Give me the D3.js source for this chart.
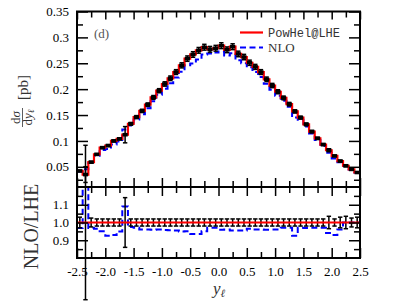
<!DOCTYPE html>
<html>
<head>
<meta charset="utf-8">
<script src="https://cdn.jsdelivr.net/npm/d3@7"></script>
<style>
  body { margin: 0; background: #fff; }
  svg { display: block; }
</style>
</head>
<body>
<svg id="chart"></svg>
<script>
// bin centres of the y_l histogram (bin width 0.1)
const binCenters = [-2.45, -2.35, -2.25, -2.15, -2.05, -1.95, -1.85, -1.75, -1.65, -1.55,
                    -1.45, -1.35, -1.25, -1.15, -1.05, -0.95, -0.85, -0.75, -0.65, -0.55,
                    -0.45, -0.35, -0.25, -0.15, -0.05, 0.05, 0.15, 0.25, 0.35, 0.45,
                    0.55, 0.65, 0.75, 0.85, 0.95, 1.05, 1.15, 1.25, 1.35, 1.45,
                    1.55, 1.65, 1.75, 1.85, 1.95, 2.05, 2.15, 2.25, 2.35, 2.45];

// PowHel@LHE  dsigma/dy [pb]
const lheValues = [0.042, 0.035, 0.059, 0.074, 0.087, 0.091, 0.100, 0.104, 0.112, 0.133,
                   0.146, 0.158, 0.170, 0.184, 0.197, 0.210, 0.221, 0.233, 0.246, 0.259,
                   0.267, 0.275, 0.281, 0.277, 0.279, 0.284, 0.276, 0.282, 0.268, 0.262,
                   0.251, 0.243, 0.233, 0.219, 0.207, 0.195, 0.183, 0.171, 0.157, 0.145,
                   0.132, 0.118, 0.105, 0.093, 0.082, 0.071, 0.061, 0.052, 0.045, 0.039];

// NLO  dsigma/dy [pb]
const nloValues = [0.0407, 0.0455, 0.0572, 0.0714, 0.0827, 0.0842, 0.0930, 0.0988, 0.1221, 0.1297,
                   0.1416, 0.1517, 0.1632, 0.1766, 0.1891, 0.2010, 0.2115, 0.2225, 0.2337, 0.2461,
                   0.2496, 0.2571, 0.2670, 0.2687, 0.2706, 0.2726, 0.2650, 0.2693, 0.2559, 0.2502,
                   0.2422, 0.2333, 0.2237, 0.2102, 0.1987, 0.1872, 0.1775, 0.1659, 0.1452, 0.1407,
                   0.1280, 0.1145, 0.1019, 0.0902, 0.0771, 0.0660, 0.0586, 0.0520, 0.0450, 0.0390];

// relative statistical error of the LHE prediction
const lheRelErr = [0.030, 0.435, 0.025, 0.020, 0.020, 0.020, 0.020, 0.020, 0.140, 0.020,
                   0.020, 0.020, 0.020, 0.020, 0.020, 0.020, 0.020, 0.020, 0.020, 0.020,
                   0.020, 0.020, 0.020, 0.020, 0.020, 0.020, 0.020, 0.020, 0.020, 0.020,
                   0.020, 0.020, 0.020, 0.020, 0.020, 0.020, 0.020, 0.020, 0.020, 0.020,
                   0.020, 0.020, 0.020, 0.020, 0.035, 0.020, 0.030, 0.035, 0.025, 0.030];

// ticks
const xMajor = [-2.5, -2, -1.5, -1, -0.5, 0, 0.5, 1, 1.5, 2, 2.5];
const xLabels = ["-2.5", "-2.0", "-1.5", "-1.0", "-0.5", "0.0", "0.5", "1.0", "1.5", "2.0", "2.5"];
const xMinor = [-2.25, -1.75, -1.25, -0.75, -0.25, 0.25, 0.75, 1.25, 1.75, 2.25];
const yUpMajor = [0.05, 0.1, 0.15, 0.2, 0.25, 0.3, 0.35];
const yUpLabels = ["0.05", "0.1", "0.15", "0.2", "0.25", "0.3", "0.35"];
const yUpMinor = [0.025, 0.075, 0.125, 0.175, 0.225, 0.275, 0.325];
const yLoMajor = [0.9, 1.0, 1.1];
const yLoLabels = ["0.9", "1.0", "1.1"];
const yLoMinor = [0.85, 0.95, 1.05, 1.15];

const width = 407, height = 308;
const pLeft = 77, pRight = 360, pTop = 11.5, pMid = 187, pBottom = 258;
const halfBin = 0.05;
const serif = "'Liberation Serif', 'Times New Roman', serif";

const svg = d3.select("#chart")
    .attr("width", width)
    .attr("height", height)
    .attr("viewBox", `0 0 ${width} ${height}`);

const x = d3.scaleLinear().domain([-2.5, 2.5]).range([pLeft, pRight]);
const yUp = d3.scaleLinear().domain([0.011, 0.35]).range([pMid, pTop]);
const yLo = d3.scaleLinear().domain([0.8, 1.2]).range([pBottom, pMid]);

const defs = svg.append("defs");
defs.append("clipPath").attr("id", "clipUp").append("rect")
    .attr("x", pLeft).attr("y", pTop).attr("width", pRight - pLeft).attr("height", pMid - pTop);
defs.append("clipPath").attr("id", "clipLo").append("rect")
    .attr("x", pLeft).attr("y", pMid).attr("width", pRight - pLeft).attr("height", pBottom - pMid);

// histogram as step line
function stepPoints(vals) {
  const pts = binCenters.map((c, i) => [c - halfBin, vals[i]]);
  pts.push([binCenters[binCenters.length - 1] + halfBin, vals[vals.length - 1]]);
  return pts;
}
const stepLine = ys => d3.line().x(d => x(d[0])).y(d => ys(d[1])).curve(d3.curveStepAfter);

const ratio = nloValues.map((v, i) => v / lheValues[i]);
const ones = lheValues.map(() => 1);

// ---- upper panel ----
const up = svg.append("g");
up.append("path")
    .attr("clip-path", "url(#clipUp)")
    .attr("d", stepLine(yUp)(stepPoints(nloValues)))
    .attr("fill", "none").attr("stroke", "#0000ff")
    .attr("stroke-width", 2).attr("stroke-dasharray", "6,3.5");
up.append("path")
    .attr("clip-path", "url(#clipUp)")
    .attr("d", stepLine(yUp)(stepPoints(lheValues)))
    .attr("fill", "none").attr("stroke", "#ff0000").attr("stroke-width", 2.2);

// black points with stat. errors
const pts = up.append("g").selectAll("g")
    .data(binCenters.map((c, i) => ({c, v: lheValues[i], e: lheValues[i] * lheRelErr[i]})))
    .join("g");
pts.append("line")
    .attr("x1", d => x(d.c)).attr("x2", d => x(d.c))
    .attr("y1", d => yUp(d.v - d.e)).attr("y2", d => yUp(d.v + d.e))
    .attr("stroke", "#000").attr("stroke-width", 1.5);
pts.selectAll(".cap")
    .data(d => [{c: d.c, v: d.v - d.e}, {c: d.c, v: d.v + d.e}])
    .join("line")
    .attr("x1", d => x(d.c) - 2.2).attr("x2", d => x(d.c) + 2.2)
    .attr("y1", d => yUp(d.v)).attr("y2", d => yUp(d.v))
    .attr("stroke", "#000").attr("stroke-width", 1.5);
pts.append("rect")
    .attr("x", d => x(d.c) - 2.6).attr("y", d => yUp(d.v) - 1.8)
    .attr("width", 5.2).attr("height", 3.6).attr("fill", "#000");

// ---- lower panel ----
const lo = svg.append("g");
lo.append("path")
    .attr("clip-path", "url(#clipLo)")
    .attr("d", stepLine(yLo)(stepPoints(ratio)))
    .attr("fill", "none").attr("stroke", "#0000ff")
    .attr("stroke-width", 2).attr("stroke-dasharray", "6,3.5");

const rb = lo.append("g").selectAll("g")
    .data(binCenters.map((c, i) => ({c, e: lheRelErr[i]})))
    .join("g");
rb.append("line")
    .attr("x1", d => x(d.c)).attr("x2", d => x(d.c))
    .attr("y1", d => yLo(1 - d.e)).attr("y2", d => yLo(1 + d.e))
    .attr("stroke", "#000").attr("stroke-width", 1.5);
rb.selectAll(".cap")
    .data(d => [{c: d.c, v: 1 - d.e}, {c: d.c, v: 1 + d.e}])
    .join("line")
    .attr("x1", d => x(d.c) - 2.2).attr("x2", d => x(d.c) + 2.2)
    .attr("y1", d => yLo(d.v)).attr("y2", d => yLo(d.v))
    .attr("stroke", "#000").attr("stroke-width", 1.5);

lo.append("path")
    .attr("clip-path", "url(#clipLo)")
    .attr("d", stepLine(yLo)(stepPoints(ones)))
    .attr("fill", "none").attr("stroke", "#ff0000").attr("stroke-width", 2.2);

// ---- axes (ticks point inward) ----
function ticks(axis, tx, ty, values, size, labels) {
  const a = axis.tickValues(values).tickSizeInner(-size).tickSizeOuter(0)
      .tickFormat(labels ? (d, i) => labels[i] : "");
  const g = svg.append("g").attr("transform", `translate(${tx},${ty})`).call(a);
  g.select(".domain").remove();
  g.selectAll("line").attr("stroke", "#000").attr("stroke-width", 1.5);
  g.selectAll("text").attr("font-family", serif).attr("font-size", 13).attr("fill", "#000");
  return g;
}

// upper panel
ticks(d3.axisLeft(yUp).tickPadding(8), pLeft, 0, yUpMajor, 11, yUpLabels);
ticks(d3.axisLeft(yUp), pLeft, 0, yUpMinor, 6);
ticks(d3.axisRight(yUp), pRight, 0, yUpMajor, 11);
ticks(d3.axisRight(yUp), pRight, 0, yUpMinor, 6);
ticks(d3.axisTop(x), 0, pTop, xMajor, 8);
ticks(d3.axisTop(x), 0, pTop, xMinor, 6);
ticks(d3.axisBottom(x), 0, pMid, xMajor, 9);
ticks(d3.axisBottom(x), 0, pMid, xMinor, 6);

// lower panel
ticks(d3.axisLeft(yLo).tickPadding(8), pLeft, 0, yLoMajor, 11, yLoLabels);
ticks(d3.axisLeft(yLo), pLeft, 0, yLoMinor, 6);
ticks(d3.axisRight(yLo), pRight, 0, yLoMajor, 11);
ticks(d3.axisRight(yLo), pRight, 0, yLoMinor, 6);
ticks(d3.axisTop(x), 0, pMid, xMajor, 9);
ticks(d3.axisTop(x), 0, pMid, xMinor, 6);
ticks(d3.axisBottom(x).tickPadding(9), 0, pBottom, xMajor, 10, xLabels);
ticks(d3.axisBottom(x), 0, pBottom, xMinor, 6);

// frames
svg.append("rect").attr("x", pLeft).attr("y", pTop).attr("width", pRight - pLeft).attr("height", pMid - pTop)
    .attr("fill", "none").attr("stroke", "#000").attr("stroke-width", 2);
svg.append("rect").attr("x", pLeft).attr("y", pMid).attr("width", pRight - pLeft).attr("height", pBottom - pMid)
    .attr("fill", "none").attr("stroke", "#000").attr("stroke-width", 2);

// ---- labels ----
svg.append("text").attr("x", 94).attr("y", 38)
    .attr("font-family", serif).attr("font-size", 13).attr("fill", "#555")
    .text("(d)");

// legend
const legend = svg.append("g");
legend.append("line").attr("x1", 240).attr("x2", 263).attr("y1", 32.5).attr("y2", 32.5)
    .attr("stroke", "#ff0000").attr("stroke-width", 2.2);
legend.append("text").attr("x", 268).attr("y", 36.5)
    .attr("font-family", "'Liberation Mono', 'DejaVu Sans Mono', monospace")
    .attr("font-size", 12).attr("fill", "#333").text("PowHel@LHE");
legend.append("line").attr("x1", 240).attr("x2", 263).attr("y1", 47.5).attr("y2", 47.5)
    .attr("stroke", "#0000ff").attr("stroke-width", 2).attr("stroke-dasharray", "6,3.5");
legend.append("text").attr("x", 268).attr("y", 52)
    .attr("font-family", serif).attr("font-size", 13).attr("fill", "#333").text("NLO");

// x title
const xt = svg.append("text").attr("x", 213).attr("y", 294)
    .attr("font-family", serif).attr("font-size", 17).attr("fill", "#333");
xt.append("tspan").attr("font-style", "italic").text("y");
xt.append("tspan").attr("font-style", "italic").attr("font-size", 11).attr("dy", 3).text("ℓ");

// upper y title: dσ/dy_ℓ [pb]
const yt = svg.append("g").attr("transform", "rotate(-90)")
    .attr("font-family", serif).attr("fill", "#333");
const num = yt.append("text").attr("x", -117.5).attr("y", 20)
    .attr("text-anchor", "middle").attr("font-size", 13);
num.append("tspan").text("d");
num.append("tspan").attr("font-style", "italic").text("σ");
yt.append("line").attr("x1", -127).attr("x2", -108).attr("y1", 22.5).attr("y2", 22.5)
    .attr("stroke", "#333").attr("stroke-width", 0.8);
const den = yt.append("text").attr("x", -117.5).attr("y", 31.5)
    .attr("text-anchor", "middle").attr("font-size", 13);
den.append("tspan").text("d");
den.append("tspan").attr("font-style", "italic").text("y");
den.append("tspan").attr("font-style", "italic").attr("font-size", 9).attr("dy", 2).text("ℓ");
yt.append("text").attr("x", -87.5).attr("y", 28).attr("text-anchor", "middle")
    .attr("font-size", 15).text("[pb]");

// lower y title
svg.append("text").attr("transform", "translate(38,226.5) rotate(-90)")
    .attr("text-anchor", "middle")
    .attr("font-family", serif).attr("font-size", 20).attr("fill", "#333")
    .text("NLO/LHE");
</script>
</body>
</html>
